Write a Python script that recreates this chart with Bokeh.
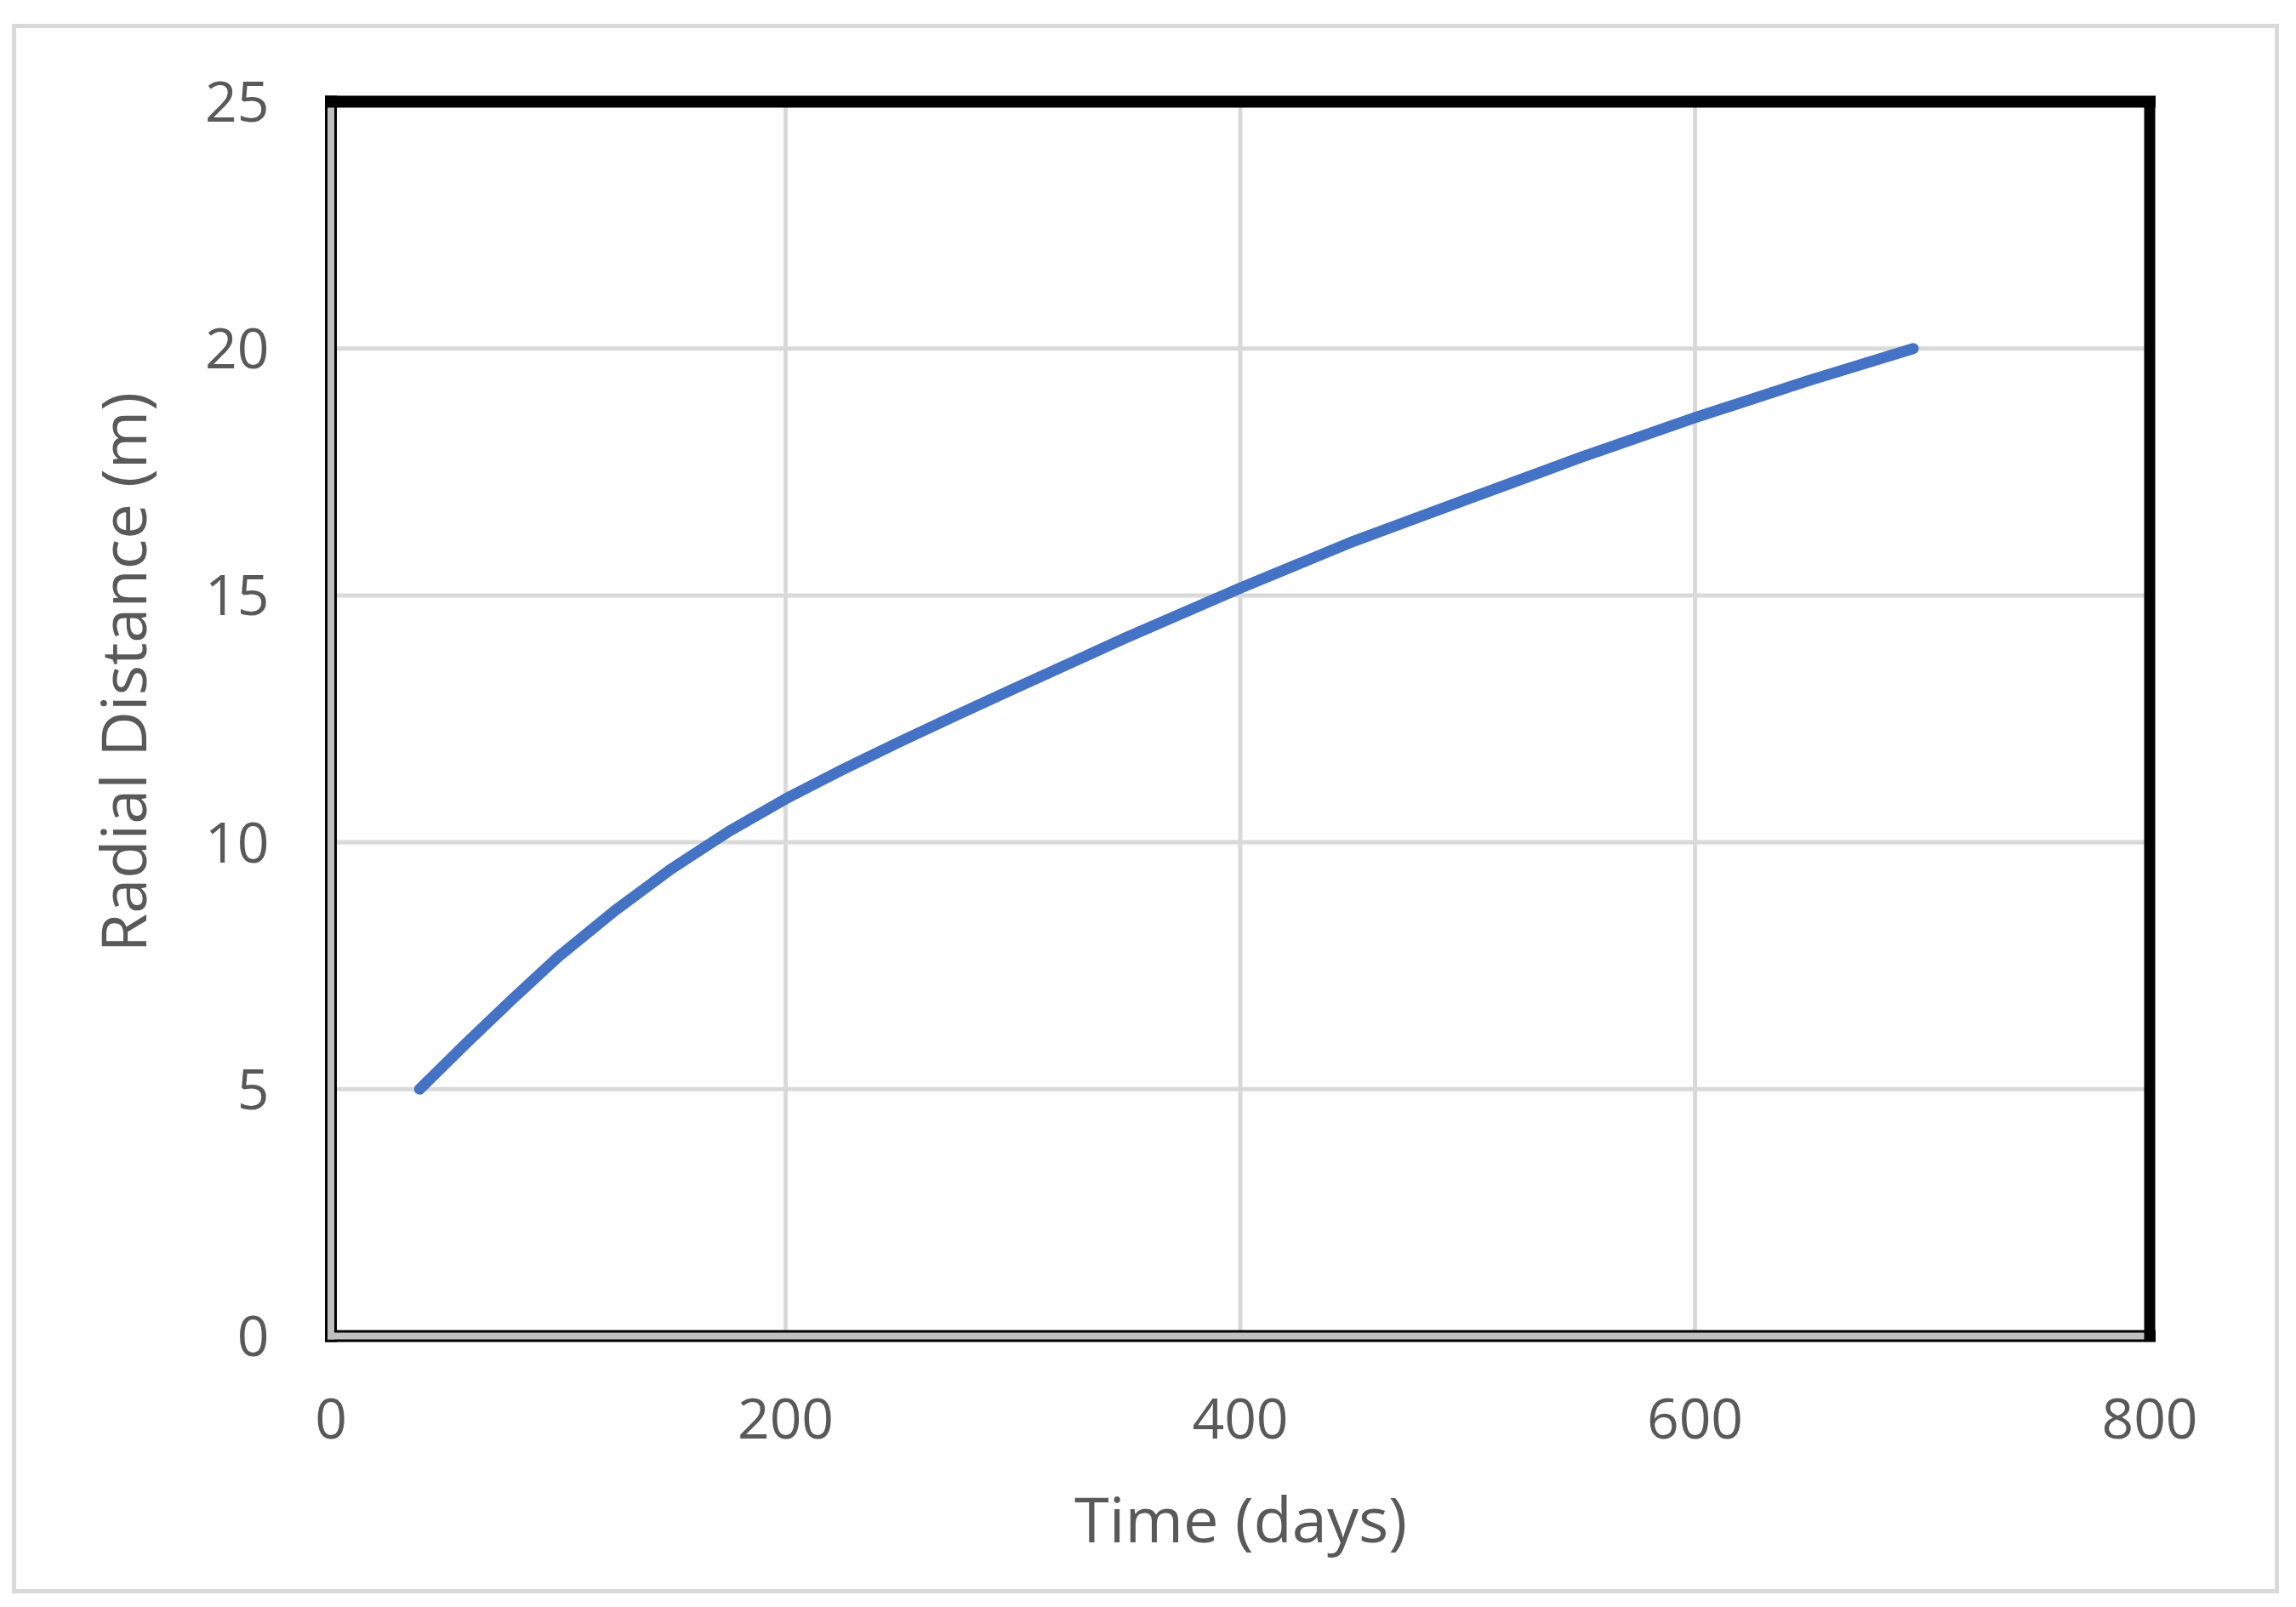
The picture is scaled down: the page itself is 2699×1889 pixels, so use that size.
from bokeh.plotting import figure
from bokeh.models import Range1d, FixedTicker, Title
from bokeh.embed import file_html
from bokeh.resources import INLINE

# ---- data ----
time_days = [39, 60, 80, 100, 125, 150, 175, 200, 225, 250, 275, 300, 350, 400, 450, 500, 550, 600, 650, 696]
radial_m = [5.0, 5.95, 6.83, 7.68, 8.62, 9.47, 10.22, 10.88, 11.47, 12.03, 12.57, 13.1, 14.15, 15.15,
            16.1, 16.95, 17.8, 18.6, 19.35, 20.0]
x_ticks = [0, 200, 400, 600, 800]
y_ticks = [0, 5, 10, 15, 20, 25]
x_title = "Time (days)"
y_title = "Radial Distance (m)"

TEXT = "#595959"
FONT = "Open Sans"
GRID = "#D9D9D9"
X0, X1 = x_ticks[0], x_ticks[-1]
Y0, Y1 = y_ticks[0], y_ticks[-1]

p = figure(frame_width=2160, frame_height=1471,
           x_range=Range1d(-3.929, 804.303), y_range=Range1d(-0.1723, 25.1723),
           min_border_left=370, min_border_right=147, min_border_top=87, min_border_bottom=299,
           output_backend="svg", toolbar_location=None)
p.styles = {"margin-top": "22px", "margin-left": "8px",
            "outline": "5px solid #d9d9d9", "outline-offset": "-11px"}
p.border_fill_color = None
p.background_fill_color = "white"
p.outline_line_color = None
p.xgrid.visible = False
p.ygrid.visible = False

for ax in (p.xaxis[0], p.yaxis[0]):
    ax.axis_line_color = None
    ax.major_tick_line_color = None
    ax.minor_tick_line_color = None
    ax.major_tick_in = 0
    ax.major_tick_out = 0
    ax.minor_tick_in = 0
    ax.minor_tick_out = 0
    ax.major_label_text_font = FONT
    ax.major_label_text_font_size = "66px"
    ax.major_label_text_color = TEXT
p.xaxis.ticker = FixedTicker(ticks=x_ticks)
p.yaxis.ticker = FixedTicker(ticks=y_ticks)
p.xaxis.major_label_standoff = 63
p.yaxis.major_label_standoff = 62
p.xaxis.axis_label = x_title
p.xaxis.axis_label_text_font = FONT
p.xaxis.axis_label_text_font_size = "74px"
p.xaxis.axis_label_text_font_style = "normal"
p.xaxis.axis_label_text_color = TEXT
p.xaxis.axis_label_standoff = 40

# gridlines (inside the data box only)
gx = x_ticks[1:-1]
p.segment(x0=gx, y0=[Y0] * len(gx), x1=gx, y1=[Y1] * len(gx), line_color=GRID, line_width=5)
gy = y_ticks[1:-1]
p.segment(x0=[X0] * len(gy), y0=gy, x1=[X1] * len(gy), y1=gy, line_color=GRID, line_width=5)

# data line
p.line(time_days, radial_m, line_color="#4472C4", line_width=13, line_cap="round", line_join="round")

# plot-area frame: left/bottom inset (black edges with grey core), top/right black
p.segment(x0=[X0, X0], y0=[Y0, Y0], x1=[X0, X1], y1=[Y1, Y0],
          line_color="black", line_width=14, line_cap="square")
p.segment(x0=[X0, X0], y0=[Y0, Y0], x1=[X0, X1], y1=[Y1, Y0],
          line_color="#BFBFBF", line_width=8, line_cap="square")
p.segment(x0=[X0], y0=[Y1], x1=[X1], y1=[Y1], line_color="black", line_width=14, line_cap="square")
p.segment(x0=[X1], y0=[Y0], x1=[X1], y1=[Y1], line_color="black", line_width=13, line_cap="square")

# y-axis title (left panel, shifted up from centre as in the reference)
p.add_layout(Title(text=y_title, align="left", offset=461, standoff=90,
                   text_font=FONT, text_font_size="74px", text_font_style="normal",
                   text_color=TEXT), "left")

open("out.html", "w").write(file_html(p, INLINE))
